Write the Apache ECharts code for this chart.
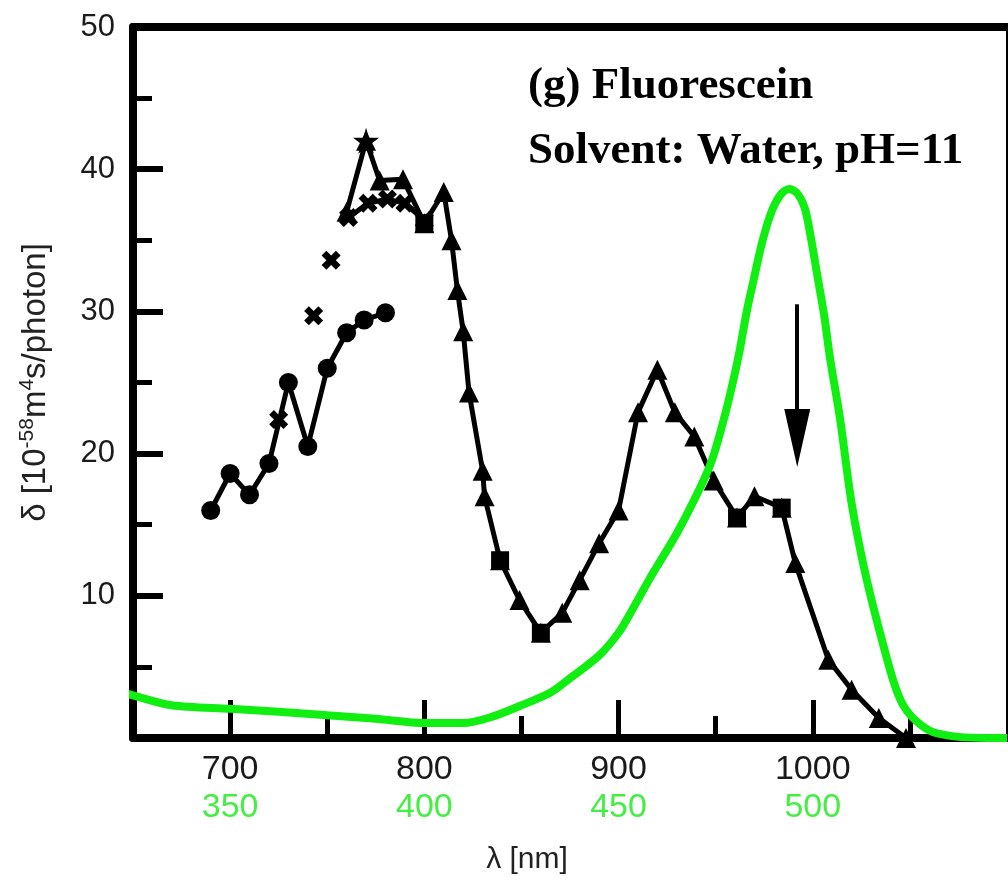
<!DOCTYPE html>
<html>
<head>
<meta charset="utf-8">
<title>Fluorescein two-photon cross section</title>
<script src="https://cdn.jsdelivr.net/npm/echarts@6/dist/echarts.min.js"></script>
<style>
  html, body { margin: 0; padding: 0; background: #fff; }
  #chart { width: 1008px; height: 880px; }
</style>
</head>
<body>
<div id="chart"></div>
<script>
// two-photon cross sections (nm, 10^-58 m^4 s/photon)
var circlePts = [[690, 16.0], [700, 18.6], [710, 17.1], [720, 19.3], [730, 25.0], [740, 20.5],
  [750, 26.0], [760, 28.5], [769, 29.4], [780, 29.9]]
var crossPts = [[725, 22.4], [743, 29.7], [752, 33.6]]
var crossLinePts = [[761, 36.6], [771, 37.6], [781, 37.9], [790, 37.6], [800, 36.4]]
var trianglePts = [[760, 37.0], [770, 42.0], [777, 39.2], [789, 39.3], [800, 36.2], [810, 38.4],
  [814, 35.0], [817, 31.5], [820, 28.6], [823, 24.3], [830, 18.8], [831, 17.0], [839, 12.5],
  [849, 9.7], [860, 7.4], [871, 8.8], [880, 11.1], [890, 13.7], [900, 16.0], [910, 22.9],
  [920, 25.9], [929, 22.9], [939, 21.2], [949, 18.1], [961, 15.5], [970, 17.0], [984, 16.2],
  [991, 12.3], [1008, 5.5], [1020, 3.4], [1034, 1.4], [1048, 0.0]]
var squarePts = [[800, 36.2], [839, 12.5], [860, 7.4], [961, 15.5], [984, 16.2]]
var starPts = [[770, 42.0]]

// one-photon absorption, drawn against twice its wavelength
var absorption = [[640, 3.4], [650, 3.0], [670, 2.3], [700, 2.05], [725, 1.85], [750, 1.6],
  [775, 1.35], [800, 1.05], [820, 1.05], [835, 1.5], [850, 2.3], [865, 3.2], [875, 4.2],
  [890, 5.8], [900, 7.4], [907, 9.0], [916, 11.2], [930, 14.4], [942, 17.6], [948, 19.5],
  [953, 21.8], [958, 24.5], [962, 27.0], [966, 30.0], [970, 32.5], [974, 34.9], [979, 37.1],
  [984, 38.3], [988, 38.6], [992, 38.3], [996, 37.2], [999, 35.2], [1003, 32.0], [1006, 29.6],
  [1009, 26.6], [1014, 22.5], [1020, 16.5], [1027, 11.6], [1035, 7.2], [1042, 3.8],
  [1047, 2.2], [1054, 1.1], [1062, 0.4], [1075, 0.08], [1090, 0], [1100, 0]]

var arrowFrom = [992, 30.5]
var arrowTo = [992, 21.1]

var xTicksMajor = [700, 800, 900, 1000]
var xTicksMinor = [750, 850, 950, 1050]
var absTicks = [350, 400, 450, 500]

var crossPath = 'path://M0,25 L25,0 L50,25 L75,0 L100,25 L75,50 L100,75 L75,100 L50,75 L25,100 L0,75 L25,50 Z'
var starPath = 'path://M50,0 L61,35 L98,35 L68,57 L79,91 L50,70 L21,91 L32,57 L2,35 L39,35 Z'

var chart = echarts.init(document.getElementById('chart'))
var sans = 'Liberation Sans'
var plain = function(v) { return String(v) }
var solid = { color: '#000', opacity: 1 }

chart.setOption({
  animation: false,
  backgroundColor: '#fff',
  title: {
    text: '(g) Fluorescein\nSolvent: Water, pH=11',
    left: 528,
    top: 54,
    padding: 0,
    textStyle: {
      fontFamily: 'Liberation Serif',
      fontWeight: 'bold',
      fontSize: 45,
      lineHeight: 65,
      color: '#000'
    }
  },
  grid: { left: 133, right: 1, top: 27, bottom: 141 },
  xAxis: [{
    type: 'value',
    min: 650,
    max: 1100,
    position: 'bottom',
    axisLine: { onZero: false, lineStyle: { color: '#000', width: 8 } },
    axisTick: { inside: true, length: 38, customValues: xTicksMajor, lineStyle: { color: '#000', width: 5 } },
    axisLabel: { customValues: xTicksMajor, formatter: plain, fontSize: 34, fontFamily: sans, color: '#1a1a1a', margin: 15 },
    splitLine: { show: false }
  }, {
    type: 'value',
    min: 650,
    max: 1100,
    position: 'bottom',
    axisLine: { show: false },
    axisTick: { inside: true, length: 22, customValues: xTicksMinor, lineStyle: { color: '#000', width: 5 } },
    axisLabel: { show: false },
    splitLine: { show: false }
  }, {
    type: 'value',
    min: 325,
    max: 550,
    position: 'bottom',
    offset: 38,
    axisLine: { show: false },
    axisTick: { show: false },
    axisLabel: { customValues: absTicks, formatter: plain, fontSize: 34, fontFamily: sans, color: '#44ee44', margin: 15 },
    splitLine: { show: false },
    name: 'λ [nm]',
    nameLocation: 'middle',
    nameGap: 69,
    nameTextStyle: { fontSize: 30, fontFamily: sans, color: '#222', padding: [0, 86, 0, 0] }
  }, {
    type: 'value',
    min: 650,
    max: 1100,
    position: 'top',
    axisLine: { onZero: false, lineStyle: { color: '#000', width: 8 } },
    axisTick: { show: false },
    axisLabel: { show: false },
    splitLine: { show: false }
  }],
  yAxis: [{
    type: 'value',
    min: 0,
    max: 50,
    interval: 10,
    position: 'left',
    axisLine: { show: true, onZero: false, lineStyle: { color: '#000', width: 8 } },
    axisTick: { inside: true, length: 30, lineStyle: { color: '#000', width: 6 } },
    minorTick: { show: true, splitNumber: 2, length: 19, lineStyle: { color: '#000', width: 5 } },
    axisLabel: {
      fontSize: 31,
      fontFamily: sans,
      color: '#1a1a1a',
      margin: 18,
      formatter: function(v) { return v === 0 ? '' : v }
    },
    splitLine: { show: false },
    name: '{a|δ [10}{b|-58}{a|m}{b|4}{a|s/photon]}',
    nameLocation: 'middle',
    nameRotate: 90,
    nameGap: 78,
    nameTextStyle: {
      rich: {
        a: { fontSize: 33, fontFamily: sans, color: '#222', lineHeight: 38 },
        b: { fontSize: 21, fontFamily: sans, color: '#222', lineHeight: 23, verticalAlign: 'top' }
      }
    }
  }, {
    type: 'value',
    min: 0,
    max: 50,
    position: 'right',
    axisLine: { show: true, onZero: false, lineStyle: { color: '#000', width: 3 } },
    axisTick: { show: false },
    axisLabel: { show: false },
    splitLine: { show: false }
  }],
  series: [{
    name: 'circles',
    type: 'line',
    data: circlePts,
    symbol: 'circle',
    symbolSize: 19,
    itemStyle: solid,
    lineStyle: { color: '#000', width: 5 }
  }, {
    name: 'crosses',
    type: 'scatter',
    data: crossPts,
    symbol: crossPath,
    symbolSize: 19,
    itemStyle: solid
  }, {
    name: 'crosses line',
    type: 'line',
    data: crossLinePts,
    symbol: crossPath,
    symbolSize: 19,
    itemStyle: solid,
    lineStyle: { color: '#000', width: 5 }
  }, {
    name: 'triangles',
    type: 'line',
    data: trianglePts,
    symbol: 'triangle',
    symbolSize: 20,
    itemStyle: solid,
    lineStyle: { color: '#000', width: 5 },
    markLine: {
      silent: true,
      symbol: ['none', 'triangle'],
      symbolSize: [26, 58],
      label: { show: false },
      lineStyle: { color: '#000', width: 4, type: 'solid' },
      data: [[{ coord: arrowFrom }, { coord: arrowTo }]]
    }
  }, {
    name: 'squares',
    type: 'scatter',
    data: squarePts,
    symbol: 'rect',
    symbolSize: 18,
    itemStyle: solid
  }, {
    name: 'star',
    type: 'scatter',
    data: starPts,
    symbol: starPath,
    symbolSize: 26,
    itemStyle: solid
  }, {
    name: 'absorption',
    type: 'line',
    data: absorption,
    smooth: 0.3,
    clip: false,
    showSymbol: false,
    z: 5,
    lineStyle: { color: '#11ee11', width: 8 }
  }]
})
</script>
</body>
</html>
